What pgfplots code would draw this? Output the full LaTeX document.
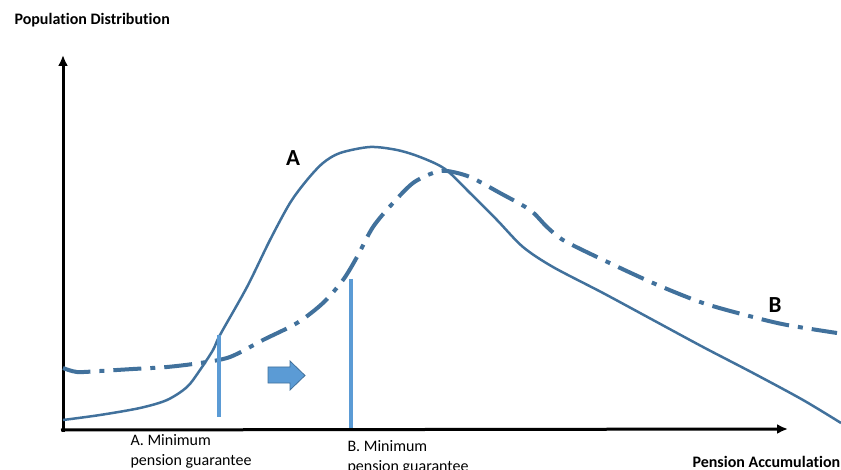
\documentclass[border=0pt]{standalone}
\usepackage{pgfplots}
\pgfplotsset{compat=1.18}
\usepackage{fontspec}
\setmainfont{Carlito}[Ligatures=NoCommon]
\usetikzlibrary{arrows.meta}
\definecolor{curve}{RGB}{65,113,156}
\definecolor{light}{RGB}{91,155,213}
\begin{document}
\begin{tikzpicture}
\begin{axis}[name=ax, width=841pt, height=470pt, scale only axis,
  xmin=0, xmax=841, ymin=0, ymax=470, y dir=reverse,
  axis lines=none, clip=false]
% axes
\addplot[black, line width=3pt, -{Latex[length=11pt,width=10pt]}] coordinates {(63,432) (63,55)};
\addplot[black, line width=3pt, -{Latex[length=11pt,width=10pt]}] coordinates {(61,430) (788,429)};
% curve A
\addplot[curve, line width=2.5pt, smooth] coordinates {
(63,420) (100,415) (140,408) (167,400) (187,387) (200,370) (213,350) (220,335)
(247,287) (270,240) (290,203) (307,180) (323,163) (340,153) (370,147) (397,150)
(420,157) (445,169) (470,193) (497,220) (523,247) (553,267) (603,293) (653,320)
(703,347) (753,373) (803,400) (841,423)};
% curve B
\addplot[curve, line width=4pt, smooth, dash pattern=on 28pt off 9pt on 5pt off 9pt] coordinates {
(63,368) (77,372) (100,371) (133,369) (167,367) (200,363) (230,357) (263,340)
(297,323) (323,303) (343,280) (357,257) (373,227) (393,203) (413,183) (433,173)
(447,171) (470,177) (500,193) (530,210) (547,227) (563,240) (597,257) (653,283)
(703,303) (753,317) (787,325) (837,333)};
% vertical lines
\addplot[light, line width=3.5pt] coordinates {(219,335) (219,417)};
\addplot[light, line width=3.5pt] coordinates {(351,279) (351,428)};
% block arrow
\addplot[fill=light, draw=curve, line width=0.8pt] coordinates {
(268,367) (290,367) (290,361) (305,375.5) (290,390) (290,383) (268,383)} -- cycle;
% texts
\node[anchor=west, font=\bfseries\fontsize{16}{19}\selectfont] at (axis cs:11,20) {Population Distribution};
\node[anchor=west, font=\bfseries\fontsize{16}{19}\selectfont] at (axis cs:689,462) {Pension Accumulation};
\node[font=\bfseries\fontsize{23}{26}\selectfont] at (axis cs:293,158) {A};
\node[font=\bfseries\fontsize{23}{26}\selectfont] at (axis cs:775,305) {B};
\node[anchor=west, align=left, font=\fontsize{16}{20}\selectfont] at (axis cs:127,451) {A. Minimum\\pension guarantee};
\node[anchor=west, align=left, font=\fontsize{16}{20}\selectfont] at (axis cs:344,457) {B. Minimum\\pension guarantee};
\end{axis}
\pgfresetboundingbox
\path[use as bounding box] (ax.south west) rectangle (ax.north east);
\end{tikzpicture}
\end{document}
